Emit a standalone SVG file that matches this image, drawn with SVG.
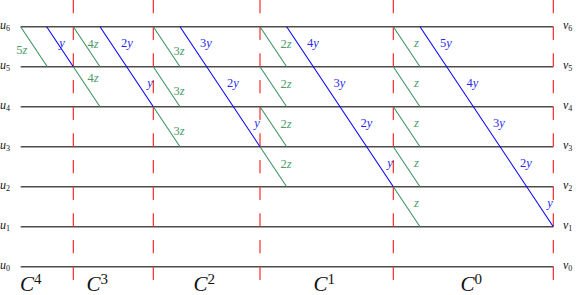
<svg xmlns="http://www.w3.org/2000/svg" width="578" height="295" viewBox="0 0 578 295">
<style>
.lvl{stroke:#4d4d4d;stroke-width:1.5;fill:none}
.cut{stroke:#ff2a2a;stroke-width:1.2;stroke-dasharray:13.33 13.33;fill:none}
.g{stroke:#3b8f5b;stroke-width:1.05;fill:none}
.b{stroke:#0000ff;stroke-width:1.05;fill:none}
.lab{font-family:"Liberation Serif",serif;font-size:12px;fill:#111}
.gl{font-family:"Liberation Serif",serif;font-size:12.5px;fill:#4a9a6a;text-anchor:middle}
.bl{font-family:"Liberation Serif",serif;font-size:12.5px;fill:#2a2aee;text-anchor:middle}
.i{font-style:italic}
.sub{font-size:8px}
.C{font-family:"Liberation Serif",serif;font-size:21px;fill:#111}
.sup{font-size:15px}
</style>
<g id="levels">
<g id="level6"><line class="lvl" x1="20.67" y1="26.67" x2="553.33" y2="26.67"/><text class="lab" x="0" y="29"><tspan class="i">u</tspan><tspan class="sub" dy="2">6</tspan></text><text class="lab" x="563" y="29"><tspan class="i">v</tspan><tspan class="sub" dy="2">6</tspan></text></g>
<g id="level5"><line class="lvl" x1="20.67" y1="66.67" x2="553.33" y2="66.67"/><text class="lab" x="0" y="69"><tspan class="i">u</tspan><tspan class="sub" dy="2">5</tspan></text><text class="lab" x="563" y="69"><tspan class="i">v</tspan><tspan class="sub" dy="2">5</tspan></text></g>
<g id="level4"><line class="lvl" x1="20.67" y1="106.67" x2="553.33" y2="106.67"/><text class="lab" x="0" y="109"><tspan class="i">u</tspan><tspan class="sub" dy="2">4</tspan></text><text class="lab" x="563" y="109"><tspan class="i">v</tspan><tspan class="sub" dy="2">4</tspan></text></g>
<g id="level3"><line class="lvl" x1="20.67" y1="146.67" x2="553.33" y2="146.67"/><text class="lab" x="0" y="149"><tspan class="i">u</tspan><tspan class="sub" dy="2">3</tspan></text><text class="lab" x="563" y="149"><tspan class="i">v</tspan><tspan class="sub" dy="2">3</tspan></text></g>
<g id="level2"><line class="lvl" x1="20.67" y1="186.67" x2="553.33" y2="186.67"/><text class="lab" x="0" y="189"><tspan class="i">u</tspan><tspan class="sub" dy="2">2</tspan></text><text class="lab" x="563" y="189"><tspan class="i">v</tspan><tspan class="sub" dy="2">2</tspan></text></g>
<g id="level1"><line class="lvl" x1="20.67" y1="226.67" x2="553.33" y2="226.67"/><text class="lab" x="0" y="229"><tspan class="i">u</tspan><tspan class="sub" dy="2">1</tspan></text><text class="lab" x="563" y="229"><tspan class="i">v</tspan><tspan class="sub" dy="2">1</tspan></text></g>
<g id="level0"><line class="lvl" x1="20.67" y1="266.67" x2="553.33" y2="266.67"/><text class="lab" x="0" y="269"><tspan class="i">u</tspan><tspan class="sub" dy="2">0</tspan></text><text class="lab" x="563" y="269"><tspan class="i">v</tspan><tspan class="sub" dy="2">0</tspan></text></g>
</g>
<g id="cuts">
<line class="cut" x1="73.33" y1="0" x2="73.33" y2="280"/>
<line class="cut" x1="153.33" y1="0" x2="153.33" y2="280"/>
<line class="cut" x1="260" y1="0" x2="260" y2="280"/>
<line class="cut" x1="393.33" y1="0" x2="393.33" y2="280"/>
<line class="cut" x1="553.33" y1="0" x2="553.33" y2="280"/>
</g>
<g id="columns">
<g id="C4"><text class="C" x="20" y="291"><tspan class="i">C</tspan><tspan class="sup" dy="-7">4</tspan></text></g>
<g id="C3"><text class="C" x="86.5" y="291"><tspan class="i">C</tspan><tspan class="sup" dy="-7">3</tspan></text></g>
<g id="C2"><text class="C" x="193.5" y="291"><tspan class="i">C</tspan><tspan class="sup" dy="-7">2</tspan></text></g>
<g id="C1"><text class="C" x="313.5" y="291"><tspan class="i">C</tspan><tspan class="sup" dy="-7">1</tspan></text></g>
<g id="C0"><text class="C" x="460.5" y="291"><tspan class="i">C</tspan><tspan class="sup" dy="-7">0</tspan></text></g>
</g>
<g id="connectors">
<g id="green">
<line class="g" x1="20.67" y1="26.67" x2="47.33" y2="66.67"/>
<line class="g" x1="73.33" y1="26.67" x2="100" y2="66.67"/>
<line class="g" x1="73.33" y1="66.67" x2="100" y2="106.67"/>
<line class="g" x1="153.33" y1="26.67" x2="180" y2="66.67"/>
<line class="g" x1="153.33" y1="66.67" x2="180" y2="106.67"/>
<line class="g" x1="153.33" y1="106.67" x2="180" y2="146.67"/>
<line class="g" x1="260" y1="26.67" x2="286.67" y2="66.67"/>
<line class="g" x1="260" y1="66.67" x2="286.67" y2="106.67"/>
<line class="g" x1="260" y1="106.67" x2="286.67" y2="146.67"/>
<line class="g" x1="260" y1="146.67" x2="286.67" y2="186.67"/>
<line class="g" x1="393.33" y1="26.67" x2="420" y2="66.67"/>
<line class="g" x1="393.33" y1="66.67" x2="420" y2="106.67"/>
<line class="g" x1="393.33" y1="106.67" x2="420" y2="146.67"/>
<line class="g" x1="393.33" y1="146.67" x2="420" y2="186.67"/>
<line class="g" x1="393.33" y1="186.67" x2="420" y2="226.67"/>
</g>
<g id="blue">
<line class="b" x1="46.67" y1="26.67" x2="73.33" y2="66.67"/>
<line class="b" x1="100" y1="26.67" x2="153.33" y2="106.67"/>
<line class="b" x1="180" y1="26.67" x2="260" y2="146.67"/>
<line class="b" x1="286.67" y1="26.67" x2="393.33" y2="186.67"/>
<line class="b" x1="420" y1="26.67" x2="553.33" y2="226.67"/>
</g>
<g id="green-labels">
<text class="gl" x="21.7" y="54">5<tspan class="i">z</tspan></text>
<text class="gl" x="93" y="48.3">4<tspan class="i">z</tspan></text>
<text class="gl" x="93" y="81.7">4<tspan class="i">z</tspan></text>
<text class="gl" x="179" y="55">3<tspan class="i">z</tspan></text>
<text class="gl" x="179" y="95">3<tspan class="i">z</tspan></text>
<text class="gl" x="179" y="135">3<tspan class="i">z</tspan></text>
<text class="gl" x="286" y="48">2<tspan class="i">z</tspan></text>
<text class="gl" x="286" y="88">2<tspan class="i">z</tspan></text>
<text class="gl" x="286" y="128">2<tspan class="i">z</tspan></text>
<text class="gl" x="286" y="168">2<tspan class="i">z</tspan></text>
<text class="gl i" x="416.5" y="46.7">z</text>
<text class="gl i" x="416.5" y="86.7">z</text>
<text class="gl i" x="416.5" y="126.7">z</text>
<text class="gl i" x="416.5" y="166.7">z</text>
<text class="gl i" x="416.5" y="206.7">z</text>
</g>
<g id="blue-labels">
<text class="bl i" x="62" y="46.7">y</text>
<text class="bl" x="127" y="47">2<tspan class="i">y</tspan></text>
<text class="bl i" x="150" y="87">y</text>
<text class="bl" x="206" y="47">3<tspan class="i">y</tspan></text>
<text class="bl" x="233" y="87">2<tspan class="i">y</tspan></text>
<text class="bl i" x="257" y="127">y</text>
<text class="bl" x="313" y="47">4<tspan class="i">y</tspan></text>
<text class="bl" x="339.5" y="87">3<tspan class="i">y</tspan></text>
<text class="bl" x="366.5" y="127">2<tspan class="i">y</tspan></text>
<text class="bl i" x="390" y="167">y</text>
<text class="bl" x="446" y="47">5<tspan class="i">y</tspan></text>
<text class="bl" x="472.5" y="87">4<tspan class="i">y</tspan></text>
<text class="bl" x="499" y="127">3<tspan class="i">y</tspan></text>
<text class="bl" x="526" y="167">2<tspan class="i">y</tspan></text>
<text class="bl i" x="550" y="207">y</text>
</g>
</g>
</svg>
